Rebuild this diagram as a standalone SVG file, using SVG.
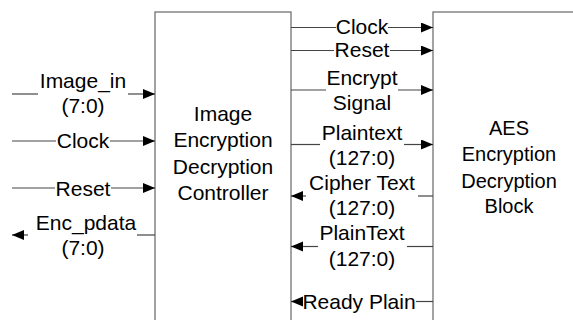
<svg xmlns="http://www.w3.org/2000/svg" width="573" height="320" viewBox="0 0 573 320">
<style>
  .box { fill: #ffffff; stroke: #666666; stroke-width: 1.2; }
  .ln { fill: none; stroke: #444444; stroke-width: 1.2; }
  .arr { marker-end: url(#ah); }
  text { font-family: "Liberation Sans", Arial, sans-serif; fill: #000000; text-anchor: middle; }
  .lbl { font-size: 21px; }
  .big { font-size: 21px; }
  .aes { font-size: 20px; }
</style>
<defs>
  <marker id="ah" markerUnits="userSpaceOnUse" markerWidth="14" markerHeight="12" refX="12" refY="5" orient="auto">
    <path d="M0,0 L12,5 L0,10 z" fill="#000000"/>
  </marker>
</defs>
<rect width="573" height="320" fill="#ffffff"/>

<g id="controller">
  <rect class="box" x="155" y="12" width="136" height="320"/>
  <text class="big" x="223" y="120.5">Image</text>
  <text class="big" x="223" y="147">Encryption</text>
  <text class="big" x="223" y="173.5">Decryption</text>
  <text class="big" x="223" y="200">Controller</text>
</g>

<g id="aes">
  <rect class="box" x="433" y="12" width="150" height="320"/>
  <text class="aes" x="509" y="135">AES</text>
  <text class="aes" x="509" y="161">Encryption</text>
  <text class="aes" x="509" y="187.5">Decryption</text>
  <text class="aes" x="509" y="213">Block</text>
</g>

<g id="connectors">
  <!-- left inputs -->
  <path class="ln" d="M12,94 H38"/>
  <path class="ln arr" d="M128,94 H155"/>
  <path class="ln" d="M12,141 H56"/>
  <path class="ln arr" d="M110,141 H155"/>
  <path class="ln" d="M12,188 H55"/>
  <path class="ln arr" d="M111,188 H155"/>
  <path class="ln" d="M155,235 H137"/>
  <path class="ln arr" d="M28,235 H12"/>
  <!-- controller to AES -->
  <path class="ln" d="M291,27.5 H336"/>
  <path class="ln arr" d="M388,27.5 H433"/>
  <path class="ln" d="M291,50.5 H334"/>
  <path class="ln arr" d="M390,50.5 H433"/>
  <path class="ln" d="M291,90 H326"/>
  <path class="ln arr" d="M398,90 H433"/>
  <path class="ln" d="M291,144.5 H320"/>
  <path class="ln arr" d="M404,144.5 H433"/>
  <!-- AES to controller -->
  <path class="ln" d="M433,196 H418"/>
  <path class="ln arr" d="M306,196 H291"/>
  <path class="ln" d="M433,246.5 H407"/>
  <path class="ln arr" d="M318,246.5 H291"/>
  <path class="ln" d="M433,301.5 H416"/>
  <path class="ln arr" d="M303,301.5 H291"/>
</g>

<g id="connector-labels">
  <text class="lbl" x="83" y="88">Image_in</text>
  <text class="lbl" x="83" y="113">(7:0)</text>
  <text class="lbl" x="83" y="148">Clock</text>
  <text class="lbl" x="83" y="195.5">Reset</text>
  <text class="lbl" x="86" y="230">Enc_pdata</text>
  <text class="lbl" x="83" y="255">(7:0)</text>

  <text class="lbl" x="362" y="34">Clock</text>
  <text class="lbl" x="362" y="57">Reset</text>
  <text class="lbl" x="362" y="85">Encrypt</text>
  <text class="lbl" x="362" y="110">Signal</text>
  <text class="lbl" x="362" y="139.5">Plaintext</text>
  <text class="lbl" x="362" y="165">(127:0)</text>
  <text class="lbl" x="362" y="189.5">Cipher Text</text>
  <text class="lbl" x="362" y="215">(127:0)</text>
  <text class="lbl" x="362" y="240">PlainText</text>
  <text class="lbl" x="362" y="266">(127:0)</text>
  <text class="lbl" x="359" y="309">Ready Plain</text>
</g>
</svg>
